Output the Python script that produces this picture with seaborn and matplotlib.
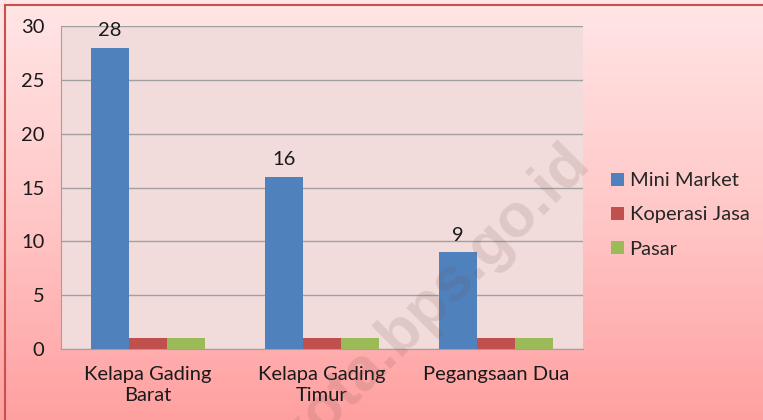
import numpy as np
import pandas as pd
import matplotlib
matplotlib.use("Agg")
import matplotlib.pyplot as plt
import seaborn as sns
from matplotlib.patches import Rectangle

# ─── Data ─────────────────────────────────────────────────────────────────────
kelurahan = ["Kelapa Gading\nBarat", "Kelapa Gading\nTimur", "Pegangsaan Dua"]
series = ["Mini Market", "Koperasi Jasa", "Pasar"]
mini_market = [28, 16, 9]
koperasi_jasa = [1, 1, 1]
pasar = [1, 1, 1]
y_ticks = [0, 5, 10, 15, 20, 25, 30]

colours = ["#4f81bd", "#c0504d", "#9bbb59"]

df = pd.DataFrame({
    "kelurahan": kelurahan * 3,
    "jenis": [s for s in series for _ in kelurahan],
    "jumlah": mini_market + koperasi_jasa + pasar,
})

sns.set_style("white")
plt.rcParams["font.family"] = ["Lato", "DejaVu Sans"]
FS = 14.5

fig = plt.figure(figsize=(7.63, 4.2), dpi=100)

# ── background gradient ──
bg = fig.add_axes([0, 0, 1, 1], zorder=0)
grad = np.linspace(0, 1, 256).reshape(-1, 1)
cmap = matplotlib.colors.LinearSegmentedColormap.from_list(
    "pinkgrad", ["#ffe6e6", "#ffc8c8", "#ffa0a0"])
bg.imshow(grad, aspect="auto", cmap=cmap, extent=[0, 1, 0, 1], origin="upper")
bg.set_xlim(0, 1)
bg.set_ylim(0, 1)
bg.axis("off")

ax = fig.add_axes([0.080, 0.169, 0.684, 0.769], zorder=2)
ax.set_facecolor("#f2dcdb")

sns.barplot(data=df, x="kelurahan", y="jumlah", hue="jenis",
            hue_order=series, palette=colours, width=0.66,
            saturation=1, linewidth=0, ax=ax, zorder=3)

ax.set_ylim(0, 30)
ax.set_yticks(y_ticks)
ax.yaxis.grid(True, color="#a0a0a0", linewidth=1, zorder=1)
ax.set_axisbelow(True)
for s in ["top", "right"]:
    ax.spines[s].set_visible(False)
ax.spines["left"].set_color("#a0a0a0")
ax.spines["bottom"].set_color("#a0a0a0")
ax.tick_params(axis="both", length=0, labelsize=FS, colors="#1a1a1a")
ax.tick_params(axis="x", pad=12)
ax.tick_params(axis="y", pad=12)
for lbl in ax.get_xticklabels():
    lbl.set_linespacing(1.3)
ax.set_xlabel("")
ax.set_ylabel("")

# data labels on the Mini Market bars only
ax.bar_label(ax.containers[0], padding=6, fontsize=FS, color="#1a1a1a")

ax.legend(loc="center left", bbox_to_anchor=(1.02, 0.415), frameon=False,
          fontsize=FS, handlelength=0.6, handleheight=0.6,
          handletextpad=0.3, labelspacing=0.85)

# watermark
fig.text(0.762, 0.625, "jakutkota.bps.go.id", fontsize=44, fontweight="bold",
         family="Liberation Sans", color=(0.45, 0.3, 0.3), alpha=0.15,
         rotation=45, ha="right", va="center", rotation_mode="anchor",
         zorder=5)

# outer border
fig.patches.append(Rectangle((0.006, -0.01), 1.0, 0.998, transform=fig.transFigure,
                             fill=False, edgecolor="#c9504d", linewidth=1.5,
                             zorder=10))

fig.savefig("out.png", dpi=100)
